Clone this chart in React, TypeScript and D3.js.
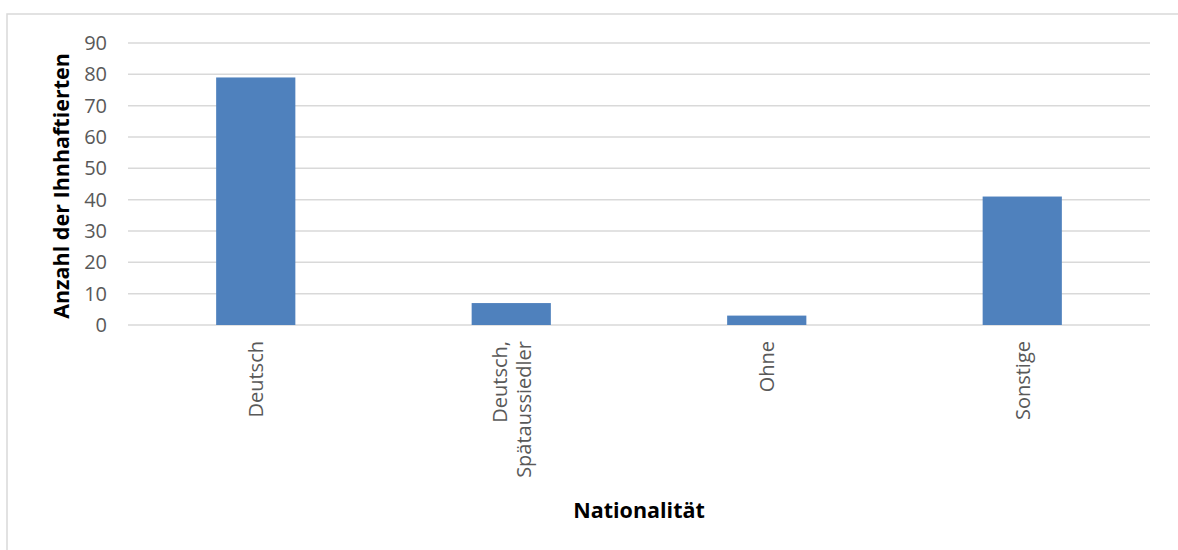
import React from "react";
import * as d3 from "d3";

const categories: string[][] = [["Deutsch"], ["Deutsch,", "Spätaussiedler"], ["Ohne"], ["Sonstige"]];
const values: number[] = [79, 7, 3, 41];
const yTicks: number[] = [0, 10, 20, 30, 40, 50, 60, 70, 80, 90];
const yTitle = "Anzahl der Ihnhaftierten";
const xTitle = "Nationalität";

const W = 1178;
const H = 550;
const left = 128;
const right = 1150;
const top = 43;
const bottom = 325;
const font = "'Open Sans', 'Noto Sans', sans-serif";

export default function App() {
  const keys = categories.map((c) => c.join(" "));
  const x = d3.scaleBand<string>().domain(keys).range([left, right]).paddingInner(0.69).paddingOuter(0.345);
  const y = d3.scaleLinear().domain([0, 90]).range([bottom, top]);
  const bw = x.bandwidth();

  return (
    <svg width={W} height={H} style={{ position: "absolute", left: 0, top: 0, background: "#fff" }}>
      <rect x={7} y={14} width={W} height={H} fill="#fff" stroke="#d9d9d9" strokeWidth={1.5} />
      {yTicks.map((t) => (
        <g key={t}>
          <line x1={left} x2={right} y1={y(t)} y2={y(t)} stroke="#d9d9d9" strokeWidth={1.5} />
          <text x={107} y={y(t)} dy="0.35em" textAnchor="end" fontFamily={font} fontSize={20} fill="#595959">
            {t}
          </text>
        </g>
      ))}
      {values.map((v, i) => (
        <rect key={i} x={x(keys[i])!} y={y(v)} width={bw} height={y(0) - y(v)} fill="#4f81bd" />
      ))}
      {categories.map((lines, i) => {
        const cx = x(keys[i])! + bw / 2;
        const n = lines.length;
        return lines.map((ln, j) => {
          const off = (j - (n - 1) / 2) * 24;
          const lx = cx + off;
          return (
            <text
              key={i + "-" + j}
              transform={`translate(${lx},341) rotate(-90)`}
              textAnchor="end"
              dominantBaseline="central"
              fontFamily={font}
              fontSize={20}
              fill="#595959"
            >
              {ln}
            </text>
          );
        });
      })}
      <text
        transform={`translate(60,186) rotate(-90)`}
        textAnchor="middle"
        dominantBaseline="central"
        fontFamily={font}
        fontWeight="bold"
        fontSize={21.5}
        fill="#000"
      >
        {yTitle}
      </text>
      <text x={(left + right) / 2} y={510} dy="0.35em" textAnchor="middle" fontFamily={font} fontWeight="bold" fontSize={21.5} fill="#000">
        {xTitle}
      </text>
    </svg>
  );
}
